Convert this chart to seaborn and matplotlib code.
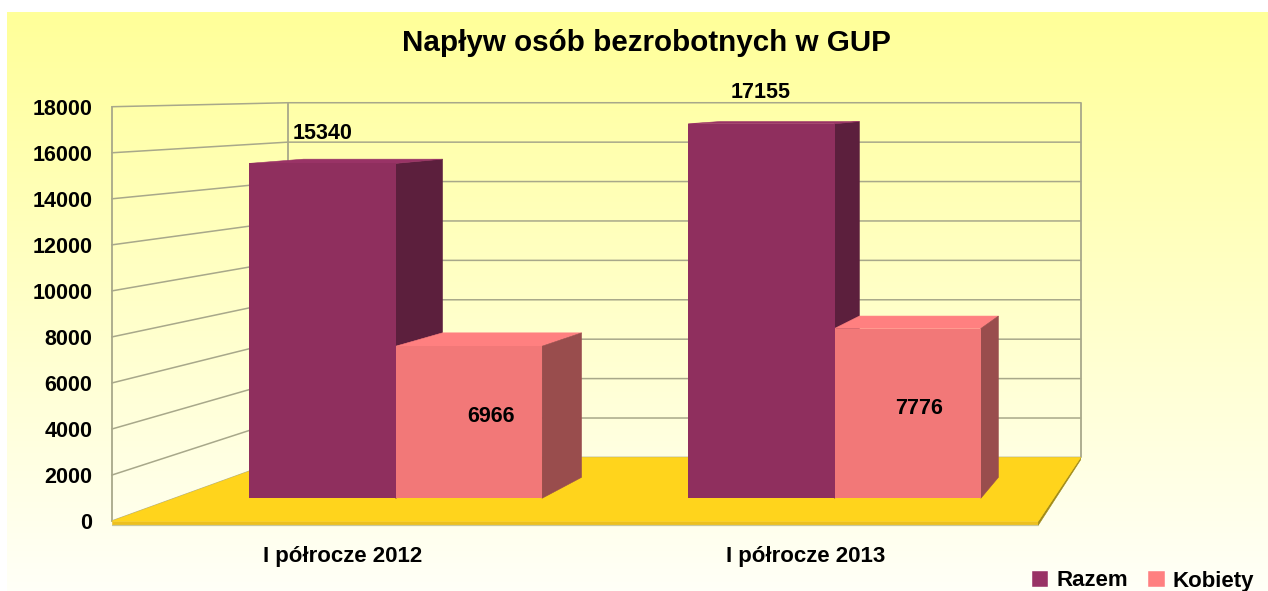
import numpy as np
import pandas as pd
import seaborn as sns
import matplotlib
matplotlib.use("Agg")
import matplotlib.pyplot as plt
from matplotlib.patches import Patch, Polygon

# ---- data ----
periods = ["I półrocze 2012", "I półrocze 2013"]
razem = [15340, 17155]
kobiety = [6966, 7776]
series_names = ["Razem", "Kobiety"]
y_ticks = [0, 2000, 4000, 6000, 8000, 10000, 12000, 14000, 16000, 18000]

# ---- style ----
W, H = 1268, 591
FONT = ["Liberation Sans", "DejaVu Sans"]
front_cols = ["#8F2F5E", "#F27878"]
top_cols = ["#993366", "#FF8080"]
side_cols = ["#5C1F3D", "#994D4D"]
GRID = "#A8A88A"
FLOOR = "#FFD41C"
FLOOR_EDGE = "#EDC01E"
FLOOR_SIDE = "#A08A18"

sns.set_theme(style="white")
plt.rcParams["font.family"] = FONT

df = pd.DataFrame({
    "period": periods * 2,
    "series": [series_names[0]] * 2 + [series_names[1]] * 2,
    "value": razem + kobiety,
})

fig = plt.figure(figsize=(W / 100, H / 100), dpi=100, facecolor="white")

# background gradient (white margin at top and left)
bg = fig.add_axes([7 / W, 0, 1 - 7 / W, 1 - 12 / H], zorder=0)
grad = np.linspace(0, 1, 256).reshape(-1, 1, 1)
top_c = np.array([1.0, 1.0, 0.6])
bot_c = np.array([1.0, 1.0, 0.97])
bg.imshow(top_c * (1 - grad) + bot_c * grad, aspect="auto", extent=[0, 1, 0, 1])
bg.axis("off")

# main axes: data coordinates lie in the plane of the bar fronts
L, R, T, B = 100, 1090, 95, 530     # axes box, px
ax = fig.add_axes([L / W, 1 - B / H, (R - L) / W, (B - T) / H], zorder=1)
ax.patch.set_alpha(0)

sns.barplot(data=df, x="period", y="value", hue="series", palette=front_cols,
            width=0.667, saturation=1, ax=ax, legend=False, zorder=5,
            linewidth=0)
bars = [b for b in ax.patches if b.get_height() > 0]

# scale of the bar-front plane
X0, DX = 395.7, 438.8        # px of category 0, px per category
Y0, DY = 498.3, 393 / 18000  # px of value 0, px per value unit
ax.set_xlim((L - X0) / DX, (R - X0) / DX)
ax.set_ylim((Y0 - B) / DY, (Y0 - T) / DY)

# vanishing point of the perspective, in data coordinates
VX, VY = (1332 - X0) / DX, (Y0 - 79) / DY
R_BACK, R_WALL, R_FRONT = 0.95, 0.9025, 1.0545


def depth(x, y, r):
    return VX + r * (x - VX), VY + r * (y - VY)


def face(pts, color, z):
    ax.add_patch(Polygon(pts, closed=True, facecolor=color, edgecolor=color,
                         linewidth=0.4, zorder=z, clip_on=False))


# extent of room in the bar plane
xl = (174.8 - X0) / DX
xr = (1053.5 - X0) / DX
ymax = y_ticks[-1]

# walls
for v in y_ticks:
    a = depth(xl, v, R_FRONT)
    b = depth(xl, v, R_WALL)
    c = depth(xr, v, R_WALL)
    ax.plot([a[0], b[0], c[0]], [a[1], b[1], c[1]], color=GRID, lw=1.1, zorder=2,
            solid_joinstyle="miter")
for xx, r in [(xl, R_FRONT), (xl, R_WALL), (xr, R_WALL)]:
    p, q = depth(xx, 0, r), depth(xx, ymax, r)
    ax.plot([p[0], q[0]], [p[1], q[1]], color=GRID, lw=1.3, zorder=2)

# floor
fa, fb = depth(xl, 0, R_FRONT), depth(xr, 0, R_FRONT)
ba, bb = depth(xl, 0, R_WALL), depth(xr, 0, R_WALL)
thick = 4.0 / DY
face([fa, fb, (fb[0], fb[1] - thick), (fa[0], fa[1] - thick)], FLOOR_EDGE, 3)
face([fb, bb, (bb[0], bb[1] - thick * 0.6), (fb[0], fb[1] - thick)], FLOOR_SIDE, 3)
face([fa, fb, bb, ba], FLOOR, 3)
ax.plot([fa[0], fb[0]], [fa[1] - thick, fb[1] - thick], color="#C8C8A0", lw=0.9, zorder=3)

# 3-D faces of every bar, derived from the bars seaborn drew
for bar in bars:
    idx = 0 if bar.get_facecolor()[0] < 0.7 else 1
    x0, x1, h = bar.get_x(), bar.get_x() + bar.get_width(), bar.get_height()
    face([depth(x0, h, 1), depth(x1, h, 1), depth(x1, h, R_BACK), depth(x0, h, R_BACK)],
         top_cols[idx], 4)
    face([depth(x1, 0, 1), depth(x1, h, 1), depth(x1, h, R_BACK), depth(x1, 0, R_BACK)],
         side_cols[idx], 4 if idx == 1 else 3.5)

# value labels
label_offsets = {15340: (0, 30), 17155: (-1, 31), 6966: (22, -70), 7776: (11, -80)}
for bar in bars:
    h = bar.get_height()
    h_round = int(round(h))
    dx, dy = label_offsets[h_round]
    ax.annotate(str(h_round), (bar.get_x() + bar.get_width() / 2, h),
                xytext=(dx * 0.72, dy * 0.72), textcoords="offset points",
                ha="center", va="center", fontsize=15.5, fontweight="bold",
                color="black", zorder=8)

# axes dressing
ax.set_xlabel("")
ax.set_ylabel("")
ax.set_yticks([depth(xl, v, R_FRONT)[1] for v in y_ticks])
ax.set_yticklabels([str(v) for v in y_ticks], fontsize=15.5, fontweight="bold")
ax.set_xticks([depth(i, 0, R_FRONT)[0] - 2 / DX for i in range(len(periods))])
ax.set_xticklabels(periods, fontsize=16, fontweight="bold")
ax.tick_params(axis="y", length=0, pad=5.5, colors="black")
ax.tick_params(axis="x", length=0, pad=11.5, colors="black")
for s in ax.spines.values():
    s.set_visible(False)

fig.text(646 / W, 1 - 43 / H, "Napływ osób bezrobotnych w GUP", ha="center", va="center",
         fontsize=21.3, fontweight="bold", color="black")

handles = [Patch(facecolor=c, edgecolor="#FFFFFF", linewidth=0.3, label=n)
           for c, n in zip(top_cols, series_names)]
fig.legend(handles=handles, loc="center right", bbox_to_anchor=(1254 / W, 1 - 581 / H), ncol=2,
           frameon=False, handlelength=0.75, handleheight=0.75, labelcolor="black",
           handletextpad=0.36, columnspacing=0.9, borderpad=0, borderaxespad=0,
           prop={"weight": "bold", "size": 16})

fig.savefig("out.png", dpi=100)
